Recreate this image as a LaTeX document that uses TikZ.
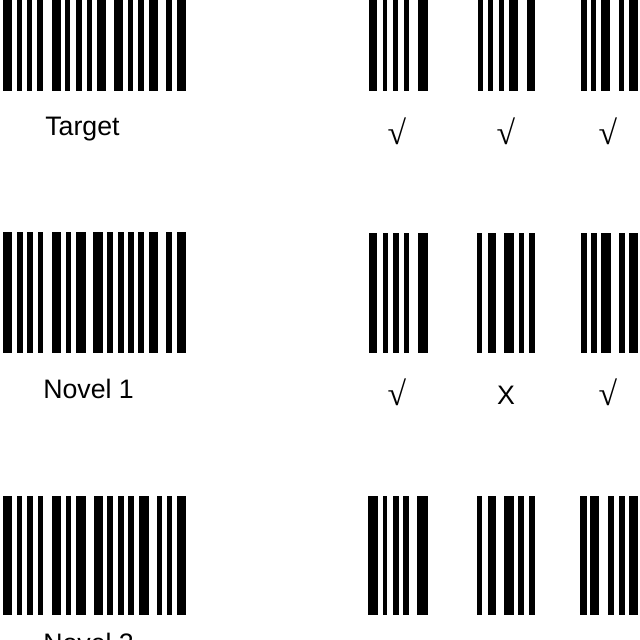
\documentclass[tikz,border=0pt]{standalone}
\usepackage{fontspec}
\setmainfont{Liberation Sans}
\newfontfamily\checkfont{Liberation Serif}

% one barcode: top, bottom, list of left/right edges
\newcommand{\barcode}[3]{%
  \foreach \l/\r in {#3} {\fill[black] (\l,#1) rectangle (\r,#2);}%
}

\begin{document}
\begin{tikzpicture}[x=0.025cm, y=-0.025cm,
    label/.style={font=\fontsize{19}{22}\selectfont, anchor=base west, inner sep=0pt},
    verdict/.style={font=\fontsize{19}{22}\selectfont, anchor=base, inner sep=0pt},
    tickmark/.style={font=\checkfont\fontsize{24}{26}\selectfont, anchor=center, inner sep=0pt}]

    \useasboundingbox[fill=white] (0,0) rectangle (640,640);

    % Target row
    \barcode{-10}{91}{3/12, 17/22, 27/32, 37/43, 52/61, 65/70, 76/82, 87/92, 97/106, 114/123, 128/133, 138/144, 149/158, 166/172, 177/186}
    \barcode{-10}{91}{369/377, 383/387, 393/398, 404/409, 418/428}
    \barcode{-10}{91}{478/483, 488/493, 499/504, 509/518, 527/535}
    \barcode{-10}{91}{581/587, 591/596, 601/610, 619/624, 629/638}

    % Novel 1 row
    \barcode{232}{353}{3/12, 17/23, 27/33, 38/43, 52/61, 66/71, 76/86, 93/103, 107/113, 118/124, 128/134, 138/144, 149/158, 166/172, 177/186}
    \barcode{233}{353}{369/377, 383/388, 393/399, 404/409, 418/428}
    \barcode{233}{353}{477/482, 488/496, 504/514, 519/524, 529/535}
    \barcode{233}{353}{581/587, 591/597, 601/611, 619/625, 629/638}

    % Novel 2 row
    \barcode{496}{615}{3/12, 17/22, 27/33, 38/43, 52/61, 66/71, 76/86, 94/103, 107/113, 118/124, 128/134, 139/149, 157/162, 167/172, 177/186}
    \barcode{496}{615}{368/378, 383/387, 393/399, 403/409, 417/428}
    \barcode{496}{615}{477/482, 488/496, 504/514, 518/524, 529/535}
    \barcode{496}{615}{580/587, 590/599, 608/614, 619/625, 629/638}

    % Labels
    \node[label] (target) at (45,135) {Target};
    \node[label] (novelone) at (43,398) {Novel 1};
    \node[label] (noveltwo) at (43,652) {Novel 2};

    % Verdicts
    \node[tickmark] (ta) at (397,131) {√};
    \node[tickmark] (tb) at (506,131) {√};
    \node[tickmark] (tc) at (608,131) {√};
    \node[tickmark] (na) at (397,392) {√};
    \node[verdict] (nb) at (506,404) {X};
    \node[tickmark] (nc) at (608,392) {√};

\end{tikzpicture}
\end{document}
